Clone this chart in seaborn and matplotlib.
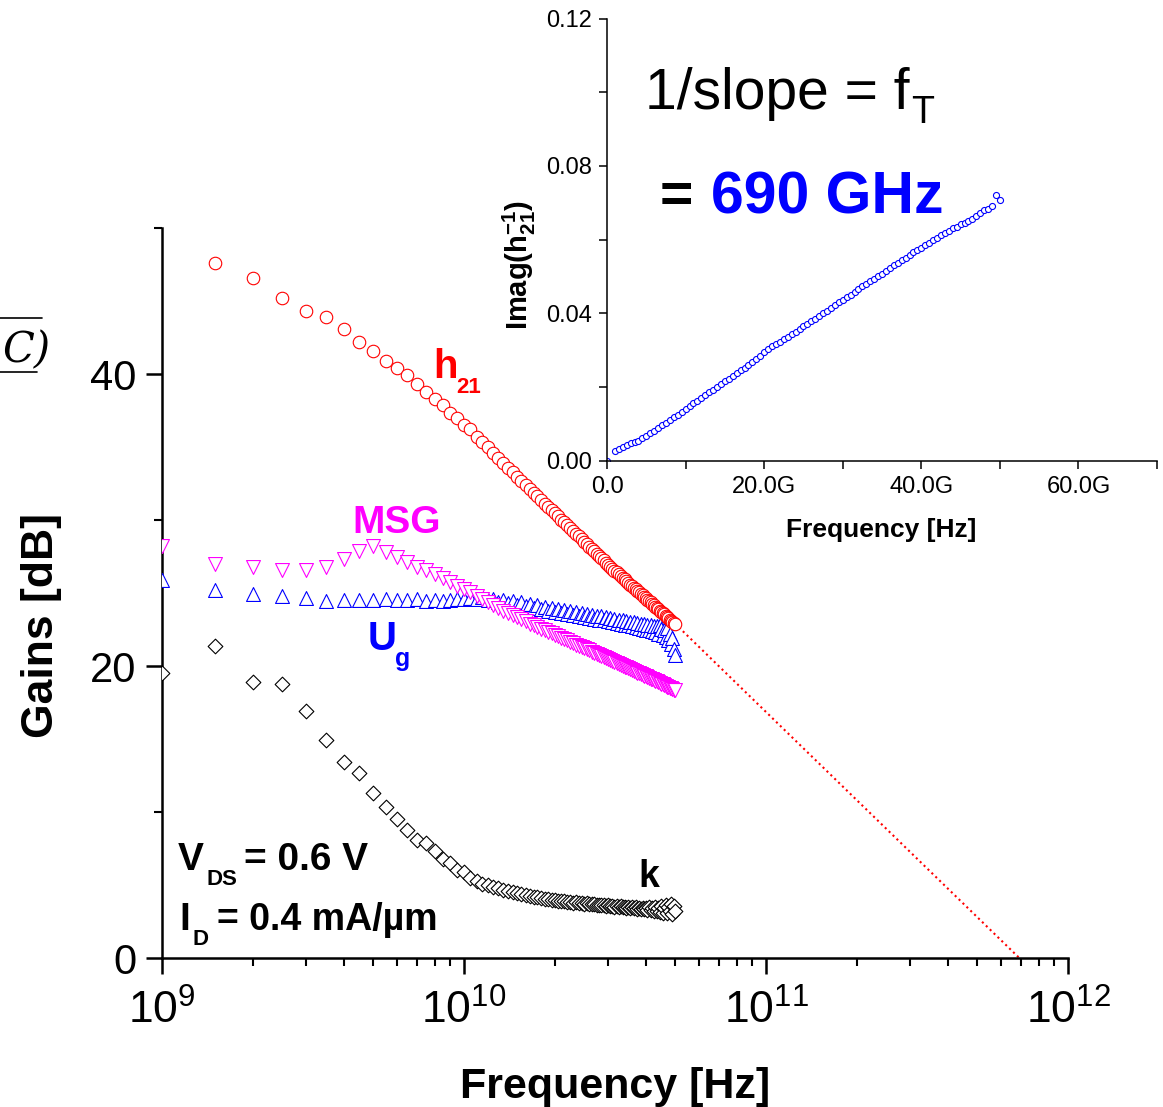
import numpy as np
import pandas as pd
import matplotlib
matplotlib.use("Agg")
import matplotlib.pyplot as plt
from matplotlib.lines import Line2D
from matplotlib.ticker import (LogLocator, LogFormatterMathtext, NullFormatter,
                               MultipleLocator, FixedLocator, FuncFormatter)
import seaborn as sns

# ---- measured gains vs. frequency (GHz, dB) ----
freq_ghz = [
    1.0, 1.5, 2.0, 2.5, 3.0, 3.5, 4.0, 4.5, 5.0, 5.5,
    6.0, 6.5, 7.0, 7.5, 8.0, 8.5, 9.0, 9.5, 10.0, 10.5,
    11.0, 11.5, 12.0, 12.5, 13.0, 13.5, 14.0, 14.5, 15.0, 15.5,
    16.0, 16.5, 17.0, 17.5, 18.0, 18.5, 19.0, 19.5, 20.0, 20.5,
    21.0, 21.5, 22.0, 22.5, 23.0, 23.5, 24.0, 24.5, 25.0, 25.5,
    26.0, 26.5, 27.0, 27.5, 28.0, 28.5, 29.0, 29.5, 30.0, 30.5,
    31.0, 31.5, 32.0, 32.5, 33.0, 33.5, 34.0, 34.5, 35.0, 35.5,
    36.0, 36.5, 37.0, 37.5, 38.0, 38.5, 39.0, 39.5, 40.0, 40.5,
    41.0, 41.5, 42.0, 42.5, 43.0, 43.5, 44.0, 44.5, 45.0, 45.5,
    46.0, 46.5, 47.0, 47.5, 48.0, 48.5, 49.0, 49.5, 50.0,
]

h21_db = [
    54.0, 47.6, 46.6, 45.2, 44.3, 43.9, 43.1, 42.2, 41.6, 40.9,
    40.4, 39.9, 39.3, 38.8, 38.3, 37.9, 37.3, 37.0, 36.5, 36.2,
    35.7, 35.35, 35.0, 34.6, 34.25, 33.9, 33.57, 33.26, 32.96, 32.67,
    32.4, 32.13, 31.87, 31.62, 31.37, 31.13, 30.9, 30.67, 30.46, 30.24,
    30.03, 29.83, 29.63, 29.44, 29.25, 29.06, 28.88, 28.7, 28.52, 28.35,
    28.18, 28.01, 27.85, 27.69, 27.53, 27.38, 27.23, 27.08, 26.93, 26.8,
    26.67, 26.54, 26.41, 26.29, 26.17, 26.05, 25.93, 25.81, 25.7, 25.58,
    25.47, 25.36, 25.25, 25.15, 25.04, 24.94, 24.84, 24.74, 24.64, 24.54,
    24.44, 24.35, 24.25, 24.16, 24.07, 23.98, 23.89, 23.8, 23.71, 23.62,
    23.53, 23.44, 23.36, 23.27, 23.18, 23.1, 23.02, 22.96, 22.9,
]

msg_db = [
    28.2, 27.0, 26.8, 26.6, 26.6, 26.8, 27.35, 27.9, 28.2, 27.8,
    27.45, 27.1, 26.8, 26.55, 26.3, 26.0, 25.75, 25.5, 25.3, 25.05,
    24.8, 24.6, 24.35, 24.15, 23.95, 23.8, 23.65, 23.5, 23.35, 23.2,
    23.05, 22.9, 22.78, 22.65, 22.55, 22.45, 22.35, 22.25, 22.15, 22.05,
    21.95, 21.85, 21.75, 21.65, 21.55, 21.45, 21.38, 21.3, 21.22, 21.15,
    21.07, 20.98, 20.9, 20.82, 20.75, 20.68, 20.6, 20.53, 20.45, 20.38,
    20.32, 20.26, 20.2, 20.14, 20.08, 20.02, 19.96, 19.9, 19.84, 19.78,
    19.72, 19.66, 19.6, 19.55, 19.5, 19.44, 19.39, 19.34, 19.29, 19.24,
    19.19, 19.14, 19.09, 19.04, 18.99, 18.94, 18.89, 18.84, 18.79, 18.74,
    18.69, 18.64, 18.59, 18.54, 18.5, 18.46, 18.42, 18.38, 18.34,
]

ug_db = [
    25.9, 25.2, 24.9, 24.8, 24.65, 24.47, 24.55, 24.5, 24.55, 24.6,
    24.55, 24.5, 24.6, 24.47, 24.5, 24.45, 24.52, 24.58, 24.62, 24.66,
    24.6, 24.72, 24.5, 24.62, 24.38, 24.52, 24.3, 24.45, 24.2, 24.35,
    24.08, 24.25, 23.98, 24.15, 23.88, 24.05, 23.8, 23.98, 23.7, 23.9,
    23.62, 23.82, 23.55, 23.75, 23.48, 23.68, 23.42, 23.62, 23.36, 23.56,
    23.3, 23.5, 23.25, 23.44, 23.18, 23.4, 23.12, 23.34, 23.06, 23.28,
    23.0, 23.22, 22.95, 23.18, 22.88, 23.12, 22.82, 23.08, 22.78, 23.02,
    22.72, 22.98, 22.66, 22.94, 22.6, 22.9, 22.55, 22.86, 22.5, 22.82,
    22.45, 22.78, 22.38, 22.75, 22.3, 22.72, 22.22, 22.8, 22.55, 22.15,
    22.45, 22.0, 22.6, 21.75, 22.2, 21.5, 21.9, 21.15, 20.75,
]

k_db = [
    19.5, 21.4, 18.9, 18.8, 16.9, 14.9, 13.45, 12.7, 11.3, 10.35,
    9.5, 8.8, 8.1, 7.85, 7.3, 6.8, 6.5, 6.05, 5.9, 5.45,
    5.3, 5.1, 5.0, 4.85, 4.78, 4.68, 4.6, 4.5, 4.45, 4.36,
    4.3, 4.25, 4.2, 4.15, 4.1, 4.05, 4.02, 3.98, 3.95, 3.93,
    3.9, 3.88, 3.85, 3.83, 3.8, 3.82, 3.76, 3.78, 3.72, 3.74,
    3.7, 3.68, 3.7, 3.65, 3.66, 3.6, 3.64, 3.58, 3.6, 3.55,
    3.58, 3.52, 3.55, 3.5, 3.53, 3.47, 3.5, 3.44, 3.5, 3.42,
    3.47, 3.4, 3.46, 3.38, 3.44, 3.36, 3.45, 3.33, 3.42, 3.3,
    3.48, 3.28, 3.4, 3.25, 3.5, 3.2, 3.45, 3.15, 3.55, 3.1,
    3.4, 3.65, 3.05, 3.5, 3.2, 3.7, 3.0, 3.55, 3.25,
]

# ---- inset: Imag(1/h21) vs. linear frequency ----
inset_freq_ghz = [
    0.0,
    1.0, 1.5, 2.0, 2.5, 3.0, 3.5, 4.0, 4.5, 5.0, 5.5,
    6.0, 6.5, 7.0, 7.5, 8.0, 8.5, 9.0, 9.5, 10.0, 10.5,
    11.0, 11.5, 12.0, 12.5, 13.0, 13.5, 14.0, 14.5, 15.0, 15.5,
    16.0, 16.5, 17.0, 17.5, 18.0, 18.5, 19.0, 19.5, 20.0, 20.5,
    21.0, 21.5, 22.0, 22.5, 23.0, 23.5, 24.0, 24.5, 25.0, 25.5,
    26.0, 26.5, 27.0, 27.5, 28.0, 28.5, 29.0, 29.5, 30.0, 30.5,
    31.0, 31.5, 32.0, 32.5, 33.0, 33.5, 34.0, 34.5, 35.0, 35.5,
    36.0, 36.5, 37.0, 37.5, 38.0, 38.5, 39.0, 39.5, 40.0, 40.5,
    41.0, 41.5, 42.0, 42.5, 43.0, 43.5, 44.0, 44.5, 45.0, 45.5,
    46.0, 46.5, 47.0, 47.5, 48.0, 48.5, 49.0, 49.5, 50.0,
]

imag_inv_h21 = [
    0.0,
    0.0027, 0.0032, 0.0038, 0.0043, 0.0047, 0.0049, 0.0053, 0.0060, 0.0067, 0.0074,
    0.0081, 0.0089, 0.0096, 0.0103, 0.0110, 0.0117, 0.0124, 0.0131, 0.0140, 0.0147,
    0.0155, 0.0162, 0.0170, 0.0177, 0.0185, 0.0192, 0.0200, 0.0207, 0.0215, 0.0222,
    0.0230, 0.0237, 0.0245, 0.0252, 0.0260, 0.0268, 0.0276, 0.0285, 0.0295, 0.0303,
    0.0310, 0.0316, 0.0323, 0.0329, 0.0336, 0.0343, 0.0350, 0.0357, 0.0364, 0.0371,
    0.0378, 0.0385, 0.0392, 0.0400, 0.0407, 0.0415, 0.0422, 0.0430, 0.0437, 0.0443,
    0.0450, 0.0458, 0.0465, 0.0473, 0.0480, 0.0486, 0.0494, 0.0500, 0.0506, 0.0514,
    0.0522, 0.0530, 0.0537, 0.0544, 0.0551, 0.0558, 0.0565, 0.0571, 0.0578, 0.0584,
    0.0590, 0.0598, 0.0605, 0.0611, 0.0617, 0.0624, 0.0630, 0.0634, 0.0641, 0.0646,
    0.0650, 0.0656, 0.0663, 0.0672, 0.0680, 0.0684, 0.0690, 0.0720, 0.0708,
]

f_t_ghz = 690.0

RED, MAGENTA, BLUE = "#FF0000", "#FF00FF", "#0000FF"

sns.set_theme(style="ticks", rc={
    "text.color": "black", "axes.labelcolor": "black",
    "xtick.color": "black", "ytick.color": "black",
    "axes.edgecolor": "black",
})
plt.rcParams["font.family"] = ["Liberation Sans", "DejaVu Sans"]
plt.rcParams["mathtext.fontset"] = "custom"
plt.rcParams["mathtext.rm"] = "Liberation Sans"
plt.rcParams["mathtext.bf"] = "Liberation Sans:bold"
plt.rcParams["mathtext.it"] = "Liberation Sans:italic"

W, H = 1163, 1107
fig = plt.figure(figsize=(W / 100, H / 100), dpi=100)


def fx(x):
    return x / W


def fy(y):
    return 1 - y / H


# ---------------- main gain plot ----------------
ax = fig.add_axes([fx(162), fy(958), 906 / W, 730 / H])
gains = pd.DataFrame({
    "freq": np.array(freq_ghz) * 1e9,
    "h21": h21_db, "MSG": msg_db, "Ug": ug_db, "k": k_db,
})

series = [
    ("Ug", "^", BLUE, 100, 3),
    ("MSG", "v", MAGENTA, 100, 4),
    ("k", "D", "black", 56, 3),
    ("h21", "o", RED, 81, 5),
]
for name, marker, color, size, z in series:
    sns.scatterplot(data=gains, x="freq", y=name, marker=marker, s=size,
                    color=color, facecolor="white", edgecolor=color,
                    linewidth=0.8, zorder=z, legend=False, ax=ax)

# -20 dB/decade extrapolation of h21 down to 0 dB at fT
sns.lineplot(x=[freq_ghz[-1] * 1e9, f_t_ghz * 1e9], y=[h21_db[-1], 0.0],
             color=RED, linestyle=(0, (1, 1.6)), linewidth=1.5,
             zorder=2, ax=ax)

ax.set_xscale("log")
ax.set_xlim(1e9, 1e12)
ax.set_ylim(0, 50)
ax.xaxis.set_major_locator(LogLocator(base=10, numticks=10))
ax.xaxis.set_minor_locator(LogLocator(base=10, subs=np.arange(2, 10), numticks=100))
ax.xaxis.set_major_formatter(LogFormatterMathtext())
ax.xaxis.set_minor_formatter(NullFormatter())
ax.yaxis.set_major_locator(FixedLocator([0, 20, 40]))
ax.yaxis.set_minor_locator(MultipleLocator(10))
sns.despine(ax=ax)
for side in ("left", "bottom"):
    ax.spines[side].set_linewidth(1.8)
ax.tick_params(which="major", direction="out", length=11.5, width=1.8,
               labelsize=30, pad=7)
ax.tick_params(axis="x", which="major", labelsize=32, pad=11)
ax.tick_params(which="minor", direction="out", length=6, width=1.5)
ax.set_xlabel("Frequency [Hz]", fontsize=31, fontweight="bold")
ax.set_ylabel("Gains [dB]", fontsize=32, fontweight="bold")
ax.xaxis.set_label_coords(0.5, -0.149)
ax.yaxis.set_label_coords(-0.110, 0.456)

# ---------------- inset: Imag(1/h21) ----------------
axin = fig.add_axes([fx(607), fy(460.5), 550 / W, 442 / H])
axin.patch.set_alpha(0)
sns.scatterplot(x=np.array(inset_freq_ghz) * 1e9, y=imag_inv_h21, marker="o",
                s=19, color=BLUE, facecolor="white", edgecolor=BLUE,
                linewidth=0.8, legend=False, ax=axin)
axin.set_xlim(0, 70e9)
axin.set_ylim(0, 0.12)
axin.xaxis.set_major_locator(MultipleLocator(20e9))
axin.xaxis.set_minor_locator(MultipleLocator(10e9))
axin.yaxis.set_major_locator(MultipleLocator(0.04))
axin.yaxis.set_minor_locator(MultipleLocator(0.02))
axin.xaxis.set_major_formatter(
    FuncFormatter(lambda v, p: "0.0" if v == 0 else f"{v / 1e9:.1f}G"))
axin.yaxis.set_major_formatter(FuncFormatter(lambda v, p: f"{v:.2f}"))
sns.despine(ax=axin)
for side in ("left", "bottom"):
    axin.spines[side].set_linewidth(1.1)
axin.tick_params(which="major", direction="out", length=6, width=1.1,
                 labelsize=17, pad=5)
axin.tick_params(which="minor", direction="out", length=6, width=1.1)
axin.set_xlabel("Frequency [Hz]", fontsize=19, fontweight="bold")
axin.set_ylabel(r"$\mathbf{Imag(h_{21}^{-1})}$", fontsize=21)
axin.xaxis.set_label_coords(0.498, -0.131)
axin.yaxis.set_label_coords(-0.125, 0.442)


def label(x, y, s, size, color="black", weight="bold", **kw):
    fig.text(fx(x), fy(y), s, fontsize=size, color=color, fontweight=weight,
             ha="left", va="baseline", **kw)


# curve names
label(433, 378, "h", 29, RED)
label(456, 393, "21", 16, RED)
label(352, 533, "MSG", 28, MAGENTA)
label(368, 650, "U", 29, BLUE)
label(395, 666, "g", 18, BLUE)
label(638, 887, "k", 27, "black")

# bias conditions
label(178, 870, "V", 28)
label(206, 885, "DS", 16)
label(244, 870, "= 0.6 V", 28)
label(179, 930, "I", 28)
label(193, 945, "D", 16)
label(217, 930, "= 0.4 mA/\u00b5m", 27)

# fT extraction note
label(645, 109, "1/slope = f", 41, weight="normal")
label(911, 123, "T", 27, weight="normal")
label(660, 213, "=", 41)
label(711, 214, f"{f_t_ghz:.0f} GHz", 42.5, BLUE)

# fragment of neighbouring equation at the left edge
fig.text(fx(2), fy(362), "C)", fontsize=30, family="DejaVu Serif",
         style="italic", ha="left", va="baseline")
fig.add_artist(Line2D([0, fx(42)], [fy(318), fy(318)], color="black", lw=1.2))
fig.add_artist(Line2D([0, fx(37)], [fy(372), fy(372)], color="black", lw=1.2))

fig.savefig("out.png", dpi=100)
